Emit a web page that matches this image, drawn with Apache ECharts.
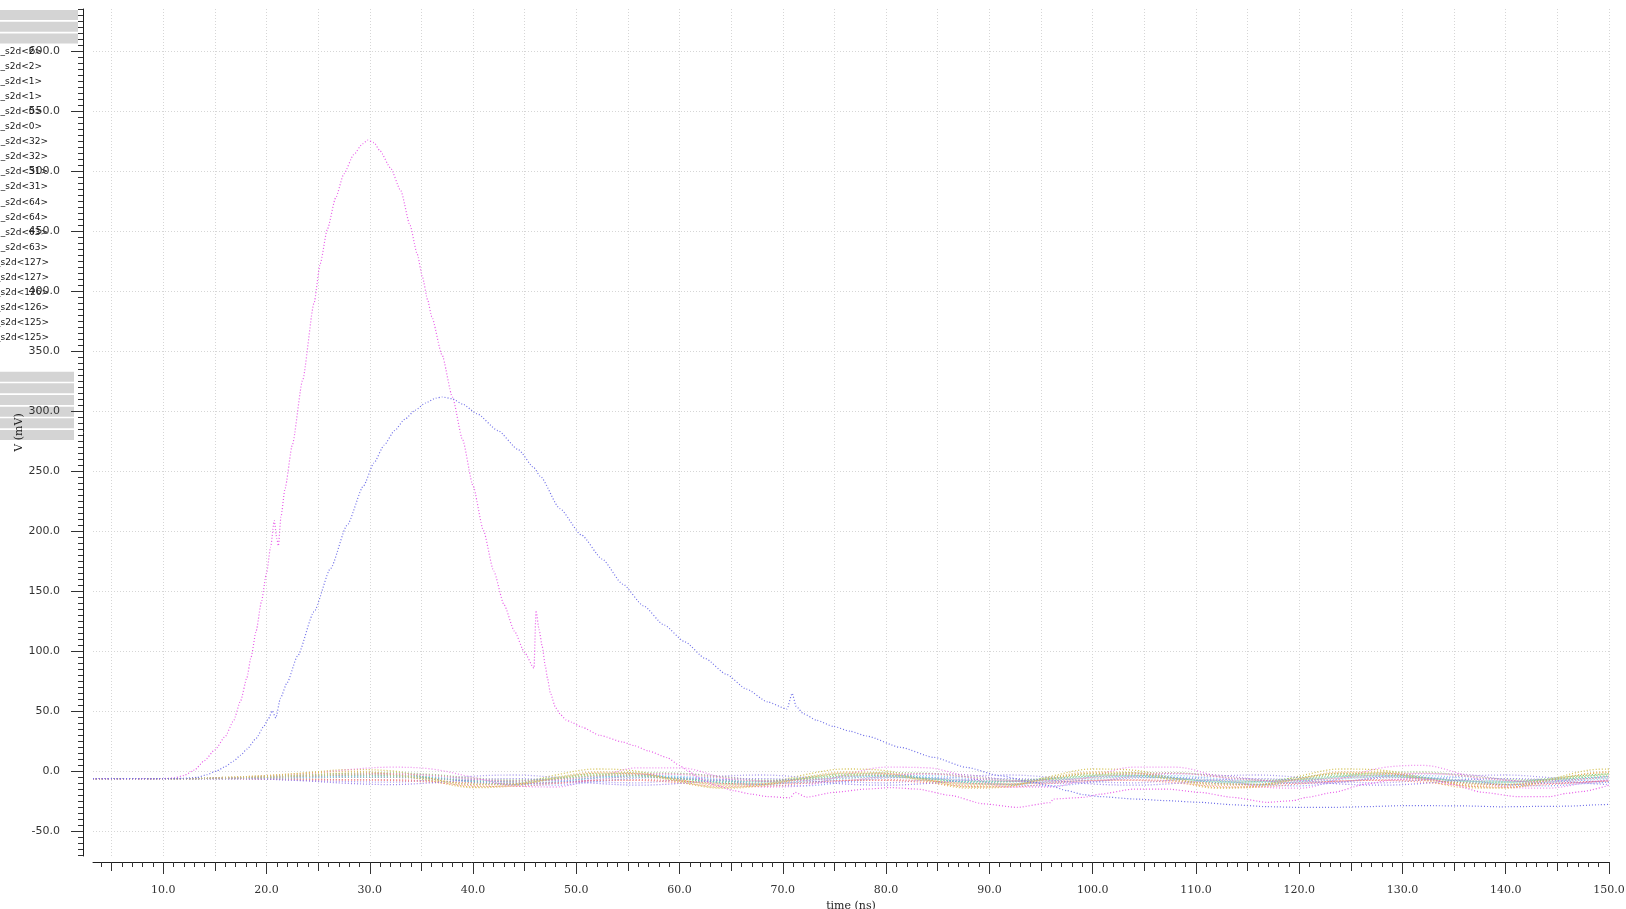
<!DOCTYPE html>
<html><head><meta charset="utf-8">
<script src="https://cdn.jsdelivr.net/npm/echarts@6/dist/echarts.min.js"></script>
<style>html,body{margin:0;padding:0;background:#fff}#c{width:1626px;height:909px}</style>
</head><body><div id="c"></div>
<script>
// ---- labels / ticks ----
const legendNames = ['_s2d<2>','_s2d<2>','_s2d<1>','_s2d<1>','_s2d<0>','_s2d<0>','_s2d<32>','_s2d<32>','_s2d<31>','_s2d<31>','_s2d<64>','_s2d<64>','_s2d<63>','_s2d<63>','_s2d<127>','_s2d<127>','_s2d<126>','_s2d<126>','_s2d<125>','_s2d<125>'];
const xMajorTicks = [10,20,30,40,50,60,70,80,90,100,110,120,130,140,150];
const yMajorTicks = [-50,0,50,100,150,200,250,300,350,400,450,500,550,600];
const xTitle = 'time (ns)';
const yTitle = 'V (mV)';

// ---- big pulse (magenta) ----
const pinkT = [3.2,8,10,11,12,13,14,15,16,16.8,17.5,18.1,18.5,19,19.5,20,20.4,20.75,21,21.15,21.4,21.8,22.5,23.5,24.6,25.2,25.9,26.7,27.5,28.45,29.3,29.8,30.4,31,32,33,33.9,34.6,35.1,35.6,36,37,38,39,40,41,42,43,44,45,45.9,46.1,46.4,46.7,47,47.2,47.5,48,48.5,49,49.5,50.5,52.3,54.5,55.6,57,58.8,60,60.7,62,63.5,65.2,67,68.5,70.7,71.2,72.3,74.9,78.1,80.4,83,86.2,89.4,92.7,95.9,96.2,99.1,100.7,104,107.2,110.4,113.6,116.9,119.4,120.7,123.3,126.5,129.1,131,133,134.6,137.8,141.1,144.3,145.9,147.5,150];
const pinkV = [-6,-6,-6,-5.5,-3.5,1,9,18,29,42,59,78,95,117,141,165,187,209,194,188,212,236,272,326,390,423,452,478,498,514,523,526,524,517,503,484,455,431,412,393,379,347,312,276,238,201,167,139,117,99,86,134,118,104,88,78,65,53,47,43,41,37,30,24.5,21.5,17,11.5,5,1,-6,-11.5,-16,-19,-21,-22,-17.5,-21.5,-17.5,-14.7,-13.5,-14.7,-20,-27,-30,-26,-23,-21.7,-19,-14.7,-14.7,-17.5,-21.7,-25.8,-24.4,-21.7,-17.5,-10.5,-7,-6,-7,-10.5,-17.5,-21,-21,-18.3,-16.7,-11.5];

// ---- second pulse (blue) ----
const blueT = [3.2,10,12,13.3,14.2,15.2,16,16.8,17.5,18.1,19,19.7,20.2,20.55,20.9,21.35,22,23,24.6,26.2,27.8,29.4,30.4,31.4,32.4,33.4,34.4,35.4,36.4,37,38,39,40.4,42.4,44.4,45.9,46.5,48.4,50.5,52.5,54.5,56.5,58.5,60.5,62.5,64.5,66.5,68.5,70.4,70.9,71.3,72,73.3,74.9,76.5,78.1,81.4,84.6,87.8,91,94.3,95.9,97.5,99.1,100.7,104,107.2,110.4,113.6,116.9,120.1,123.3,126.5,129.8,133,136.2,139.5,143,146,149,150];
const blueV = [-6,-6,-5.8,-5,-2.8,0.5,4,8.5,13.5,18.5,27.5,37,44,50.5,44.5,61,74,96,133,169,205,238,257,272,284,293.5,301,307,311,312,310.5,306,298,284,268,253,246,219,197,177,156,138,122,108,94,81,68.5,58,52,65,54,48,42.5,37.5,33.5,29.5,20,11.7,3.3,-3.6,-9.2,-12,-16,-19.4,-21,-23,-24.4,-25.8,-27.8,-29.4,-30,-30,-29.4,-28.6,-28.6,-28.8,-29.5,-29.2,-29,-27.8,-27.5];

// ---- quiet lines near 0 (common time samples) ----
const bundleT = [3.2,8,12,16,20,24,28,32,36,40,44,48,52,56,60,64,68,72,76,80,84,88,92,96,100,104,108,112,116,120,124,128,132,136,140,144,148,150];
const yellowV = [-6,-6,-6,-5,-3.5,-1,1.5,0.5,-6,-13,-11,-3,2,0,-8,-13.5,-11,-3,2,0.5,-7,-13,-12,-4,2,1,-6,-13.5,-12,-4,2,1,-5,-12,-13.5,-7,1,2];
const pink2V = [-6,-6,-6,-5.5,-4,-2,1.5,3.5,2,-5,-12,-13,-5,3,3,-5,-13,-12,-3,3.5,3,-5,-13,-13,-4,3.5,3.5,-4,-12.5,-14,-6,3,5,-3,-13,-14,-9,-7];
const greenV = [-6,-6,-6,-5.5,-4.5,-3,-2,-2.5,-5,-8,-8,-5,-2,-2.5,-6,-9,-8.5,-5,-2,-2.5,-6,-9,-8.5,-5,-2,-2,-5.5,-9,-8.5,-5,-2,-2,-5,-8.5,-9,-6,-3,-2];
const cyanV = [-6,-6,-6,-5.5,-5,-4,-3.5,-3.5,-5,-9,-11,-9,-5,-3.5,-5,-9.5,-11,-8,-4.5,-3.5,-5,-9.5,-11,-8,-4.5,-3.5,-5,-9.5,-11,-8.5,-4.5,-3.5,-5,-9,-11,-9,-5.5,-4.5];
const salmonV = [-6,-6,-6,-6,-6,-6.5,-7,-7,-8,-9.5,-10,-9,-7.5,-7,-8,-10,-10.5,-9,-7.5,-7,-8,-10,-10.5,-9,-7.5,-7,-8,-10,-11,-9.5,-8,-7,-7.5,-9.5,-11,-10,-8.5,-8];
const orangeV = [-6,-6,-6,-5.5,-4.5,-3,-1.5,-2,-6,-11,-11,-6,-1.5,-2,-7,-11.5,-11,-6,-1.5,-2,-7,-11.5,-11,-6,-1.5,-1.5,-6,-11.5,-11,-6,-1.5,-1.5,-5.5,-11,-11.5,-7,-2,-1];
const lavenderV = [-6,-6,-6,-6,-6.5,-7.5,-8.5,-9,-7,-4,-3,-5,-8.5,-9.5,-7,-4,-3,-5,-8.5,-9.5,-7,-4,-3,-5,-8.5,-9.5,-7,-4,-3,-5,-8.5,-9.5,-7,-4,-3,-5,-8,-9];
const lightBlueV = [-6,-6,-6,-6,-5.5,-5,-5,-5,-6,-8.5,-11,-11.5,-8.5,-5.5,-5,-7.5,-11,-12,-9,-5.5,-5,-7.5,-11,-12,-9,-5.5,-5,-7.5,-11,-12,-9,-5.5,-5,-7.5,-11,-12,-10,-9];
const tealV = [-6,-6,-6,-5.5,-5,-4.5,-4,-4,-5.5,-8,-8.5,-6.5,-4,-4,-6,-8.5,-8.5,-6,-4,-4,-6,-8.5,-8.5,-6,-4,-4,-6,-8.5,-9,-6.5,-4,-4,-5.5,-8,-9,-7,-5,-4];
const grayV = [-6,-6,-6,-6,-6,-5.5,-5,-5,-6,-7.5,-8,-7,-5.5,-5,-6,-7.5,-8,-7,-5.5,-5,-6,-7.5,-8,-7,-5.5,-5,-6,-7.5,-8,-7,-5.5,-5,-6,-7.5,-8,-7,-6,-5.5];
const purpleV = [-6,-6,-6,-5.5,-5,-4,-3,-2,-3,-6,-9.5,-10,-7,-3,-2,-4,-8,-10,-8,-4,-2,-3,-7.5,-10,-8.5,-4,-2,-3,-7,-10,-9,-4.5,-2,-2.5,-7,-10,-9,-7];
const redV = [-6,-6,-6,-6,-6.5,-7,-7,-7.5,-9,-12,-12.5,-10,-7.5,-7.5,-9.5,-12.5,-12.5,-10,-7.5,-7.5,-9.5,-12.5,-13,-10,-7.5,-7.5,-9.5,-12.5,-13,-10.5,-8,-7.5,-9,-12,-13,-11,-9,-8];
const lightGreenV = [-6,-6,-6,-5.5,-4.5,-3,-1.5,-1,-2.5,-5.5,-7,-6,-3,-1,-1.5,-4.5,-7,-6.5,-3.5,-1,-1.5,-4.5,-7,-6.5,-3.5,-1,-1,-4,-7,-7,-4,-1,-0.5,-3.5,-6.5,-7,-4,-2];
const skyV = [-6,-6,-6,-6,-5.5,-5,-4,-3.5,-4.5,-7,-9,-8.5,-5.5,-3.5,-4,-6.5,-9,-9,-6,-3.5,-3.5,-6,-8.5,-9,-6.5,-3.5,-3.5,-6,-8.5,-9,-6.5,-4,-3.5,-5.5,-8.5,-9,-7,-6];
const peachV = [-6,-6,-6,-5,-3.5,-1.5,0,-2,-8,-13.5,-12,-5,-0.5,-1.5,-9,-14,-12,-5,-0.5,-1.5,-8.5,-14,-12.5,-5,-0.5,-1,-8,-14,-13,-6,-0.5,-0.5,-7,-13.5,-14,-8,-1.5,0];
const violetV = [-6,-6,-6,-6,-6.5,-8,-10,-11,-9.5,-7,-6,-7.5,-10,-11.5,-10,-7,-6,-7.5,-10.5,-11.5,-10,-7,-6,-7.5,-10.5,-11.5,-10,-7,-6,-7.5,-10.5,-11.5,-10,-7,-6,-7,-10,-11];
const roseV = [-6,-6,-6,-5.5,-5,-4,-2.5,-2,-3.5,-6.5,-8,-7,-4,-2,-2.5,-5.5,-8,-7.5,-4.5,-2,-2,-5,-8,-8,-5,-2,-1.5,-4.5,-7.5,-8,-5.5,-2.5,-1.5,-4,-7.5,-8.5,-6,-4];
const oliveV = [-6,-6,-6,-5.5,-5,-4,-3,-3.5,-7,-10.5,-10,-6,-3,-3.5,-7.5,-10.5,-10,-6,-3,-3.5,-7.5,-10.5,-10.5,-6,-3,-3,-7,-10.5,-10.5,-6.5,-3,-3,-6.5,-10,-10.5,-7,-3.5,-3];

const bundle = [
  {v: yellowV, c: '#cfbd45'}, {v: pink2V, c: '#ec80ec'}, {v: greenV, c: '#74c474'},
  {v: cyanV, c: '#68bfe8'}, {v: salmonV, c: '#ec6666'}, {v: orangeV, c: '#eea050'},
  {v: lavenderV, c: '#a08eec'}, {v: lightBlueV, c: '#849ef2'}, {v: tealV, c: '#5ec8ae'},
  {v: grayV, c: '#a8a8a8'}, {v: purpleV, c: '#bb78d6'}, {v: redV, c: '#ef8282'},
  {v: lightGreenV, c: '#a2d486'}, {v: skyV, c: '#86caea'}, {v: peachV, c: '#e2b660'},
  {v: violetV, c: '#927aea'}, {v: roseV, c: '#ea8abb'}, {v: oliveV, c: '#b4c872'}
];

// ---- tick helpers (positions only) ----
const xMidTicks = []; for (let t = 5; t <= 150; t += 5) xMidTicks.push(t);
const xMinorTicks = []; for (let t = 4; t <= 150; t += 1) xMinorTicks.push(t);
const yMinorTicks = []; for (let v = -70; v <= 635; v += 5) yMinorTicks.push(v);

const XMIN = 3.2, XMAX = 150, YMIN = -70.5, YMAX = 635.3;
const dotted = [1, 2];
const axisCol = '#1e1e1e';
const XOFF = 6;

function zip(t, v) { return t.map((x, i) => [x, v[i]]); }

const series = [];
bundle.forEach((b, i) => {
  series.push({
    type: 'line', name: legendNames[i + 2], data: zip(bundleT, b.v), smooth: 0.35,
    showSymbol: false, silent: true, z: 2,
    lineStyle: {color: b.c, width: 1.3, type: dotted, opacity: 0.9}
  });
});
series.push({type: 'line', name: legendNames[0], data: zip(pinkT, pinkV), showSymbol: false, silent: true, z: 3,
  smooth: 0.2, smoothMonotone: 'x',
  lineStyle: {color: '#e85ce8', width: 1.2, type: dotted}});
series.push({type: 'line', name: legendNames[1], data: zip(blueT, blueV), showSymbol: false, silent: true, z: 3,
  smooth: 0.2, smoothMonotone: 'x',
  lineStyle: {color: '#6f6fe8', width: 1.2, type: dotted}});

const graphics = [];
[10, 21.7, 33.4].forEach(y => graphics.push({type: 'rect', z: -1, shape: {x: 0, y: y, width: 78, height: 10}, style: {fill: '#d4d4d4'}}));
[371.7, 383.3, 395, 406.7, 418.3, 430].forEach(y => graphics.push({type: 'rect', z: -1, shape: {x: 0, y: y, width: 74, height: 10}, style: {fill: '#d4d4d4'}}));
legendNames.forEach((n, i) => {
  const right = n.length <= 7 ? 42 : (n.length === 8 ? 48 : 49);
  graphics.push({type: 'text', z: 1, x: right, y: 51.5 + i * 15.07,
    style: {text: n, fill: '#151515', font: '9px "DejaVu Sans"', align: 'right', verticalAlign: 'middle'}});
});

const chart = echarts.init(document.getElementById('c'), null, {renderer: 'canvas'});
chart.setOption({
  animation: false,
  backgroundColor: '#ffffff',
  grid: {left: 93, right: 17, top: 9, bottom: 53, containLabel: false, outerBoundsMode: 'none'},
  xAxis: [
    {type: 'value', min: XMIN, max: XMAX, position: 'bottom', offset: XOFF,
     name: xTitle, nameLocation: 'middle', nameGap: 39, nameMoveOverlap: false,
     nameTextStyle: {fontFamily: 'DejaVu Serif', fontSize: 11, color: '#222'},
     axisLine: {show: true, onZero: false, lineStyle: {color: axisCol, width: 1}},
     axisTick: {show: true, length: 12, customValues: xMajorTicks, lineStyle: {color: '#333'}},
     axisLabel: {show: true, customValues: xMajorTicks, margin: 23, formatter: v => v.toFixed(1),
       fontFamily: 'DejaVu Serif', fontSize: 11, color: '#333'},
     splitLine: {show: false}},
    {type: 'value', min: XMIN, max: XMAX, position: 'bottom', offset: XOFF,
     axisLine: {show: false, onZero: false},
     axisTick: {show: true, length: 9, customValues: xMidTicks, lineStyle: {color: '#333'}},
     axisLabel: {show: false},
     splitLine: {show: true, lineStyle: {color: '#d6d6d6', type: [1, 2], width: 1}}},
    {type: 'value', min: XMIN, max: XMAX, position: 'bottom', offset: XOFF,
     axisLine: {show: false, onZero: false},
     axisTick: {show: true, length: 5, customValues: xMinorTicks, lineStyle: {color: '#333'}},
     axisLabel: {show: false}, splitLine: {show: false}}
  ],
  yAxis: [
    {type: 'value', min: YMIN, max: YMAX, position: 'left', offset: 10,
     name: yTitle, nameLocation: 'middle', nameGap: 58, nameRotate: 90, nameMoveOverlap: false,
     nameTextStyle: {fontFamily: 'DejaVu Serif', fontSize: 11, color: '#222'},
     axisLine: {show: true, onZero: false, lineStyle: {color: axisCol, width: 1}},
     axisTick: {show: true, length: 12, customValues: yMajorTicks, lineStyle: {color: '#333'}},
     axisLabel: {show: true, customValues: yMajorTicks, margin: 23, formatter: v => v.toFixed(1),
       fontFamily: 'DejaVu Sans', fontSize: 11, color: '#333'},
     splitLine: {show: true, lineStyle: {color: '#d6d6d6', type: [1, 2], width: 1}}},
    {type: 'value', min: YMIN, max: YMAX, position: 'left', offset: 10,
     axisLine: {show: false, onZero: false},
     axisTick: {show: true, length: 5, customValues: yMinorTicks, lineStyle: {color: '#333'}},
     axisLabel: {show: false}, splitLine: {show: false}}
  ],
  series: series,
  graphic: graphics
});
</script></body></html>
